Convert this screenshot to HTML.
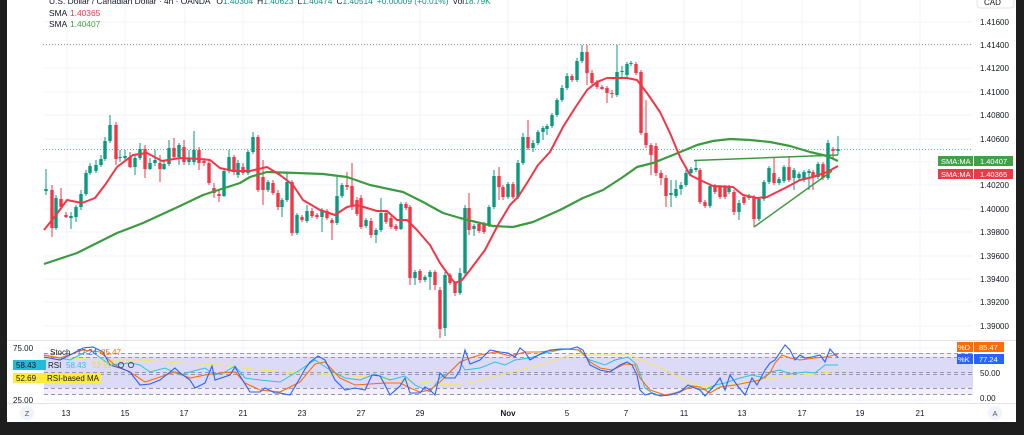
<!DOCTYPE html>
<html><head><meta charset="utf-8"><style>
html,body{margin:0;padding:0;background:#fff;width:1024px;height:435px;overflow:hidden}
svg{display:block;font-family:"Liberation Sans",sans-serif}
</style></head><body>
<svg width="1024" height="435" viewBox="0 0 1024 435" xmlns="http://www.w3.org/2000/svg">
<rect x="0" y="0" width="1024" height="435" fill="#fff"/>
<!-- grid -->
<g stroke="#f0f3fa" stroke-width="1">
<path d="M43 22H972M43 45H972M43 68H972M43 92H972M43 115H972M43 139H972M43 162H972M43 185H972M43 209H972M43 232H972M43 256H972M43 279H972M43 302H972M43 326H972"/>
<path d="M67 0V403M125 0V403M185 0V403M243 0V403M303 0V403M362 0V403M420 0V403M508 0V403M567 0V403M626 0V403M684 0V403M742 0V403M802 0V403M860 0V403M920 0V403"/>
<path d="M43 348H972M43 374H972M43 400H972"/>
</g>
<!-- separators -->
<path d="M7 340.5H1016M7 403.5H1016" stroke="#e0e3eb" stroke-width="1"/>
<!-- dotted lines -->
<path d="M43 44.5H972" stroke="#9598a1" stroke-width="1" stroke-dasharray="1 2"/>
<path d="M43 149.5H972" stroke="#089981" stroke-width="1" stroke-dasharray="1 2" opacity="0.7"/>

<!-- candles green -->
<path stroke="#089981" stroke-width="1" fill="none" d="M46 169V195M56 195V230M71 212V229M76 205V222M81 190V210M86 170V196M90 163V175M96 160V173M101 155V167M105 137V161M110 115V143M120 150V162M125 150V160M135 155V175M140 143V160M150 158V170M155 150V166M164 160V170M169 140V166M179 143V165M189 150V165M194 131V165M224 168V197M229 150V173M238 160V178M248 150V175M253 132V154M268 180V192M282 198V217M287 172V202M297 213V235M307 205V223M322 208V232M337 175V225M342 183V198M366 218V228M376 228V243M381 198V232M401 202V230M415 270V285M425 275V282M430 270V290M445 272V336M460 268V295M465 205V275M474 224V236M489 205V227M494 170V209M508 182V199M518 160V199M523 133V165M533 140V152M538 130V145M543 126V140M547 124V135M552 113V128M557 98V117M562 85V102M567 73V90M577 58V82M582 45V63M617 45V97M622 66V78M627 62V77M631 61V66M671 180V207M676 180V198M681 182V195M686 170V187M691 167V175M696 160V172M710 184V208M729 185V194M739 200V220M749 194V200M759 197V221M764 180V201M769 166V184M779 177V185M784 165V183M794 168V190M799 172V180M804 170V182M809 169V190M818 162V179M828 140V180M838 136V155"/>
<path fill="#089981" d="M44.3 189h3.4v2h-3.4zM54.3 198h3.4v30h-3.4zM69.3 216h3.4v2h-3.4zM74.3 207h3.4v10h-3.4zM79.3 194h3.4v13h-3.4zM84.3 173h3.4v21h-3.4zM88.3 166h3.4v7h-3.4zM94.3 165h3.4v6h-3.4zM99.3 159h3.4v6h-3.4zM103.3 141h3.4v18h-3.4zM108.3 125h3.4v16h-3.4zM118.3 157h3.4v1h-3.4zM123.3 156h3.4v2h-3.4zM133.3 158h3.4v9h-3.4zM138.3 149h3.4v9h-3.4zM148.3 163h3.4v6h-3.4zM153.3 160h3.4v3h-3.4zM162.3 164h3.4v5h-3.4zM167.3 148h3.4v16h-3.4zM177.3 145h3.4v12h-3.4zM187.3 159h3.4v3h-3.4zM192.3 150h3.4v12h-3.4zM222.3 171h3.4v25h-3.4zM227.3 157h3.4v14h-3.4zM236.3 163h3.4v12h-3.4zM246.3 152h3.4v21h-3.4zM251.3 137h3.4v15h-3.4zM266.3 182h3.4v8h-3.4zM280.3 200h3.4v7h-3.4zM285.3 182h3.4v18h-3.4zM295.3 215h3.4v18h-3.4zM305.3 211h3.4v10h-3.4zM320.3 211h3.4v6h-3.4zM335.3 196h3.4v27h-3.4zM340.3 185h3.4v11h-3.4zM364.3 220h3.4v6h-3.4zM374.3 230h3.4v5h-3.4zM379.3 213h3.4v17h-3.4zM399.3 204h3.4v25h-3.4zM413.3 272h3.4v6h-3.4zM423.3 277h3.4v3h-3.4zM428.3 272h3.4v5h-3.4zM443.3 275h3.4v53h-3.4zM458.3 273h3.4v20h-3.4zM463.3 208h3.4v65h-3.4zM472.3 226h3.4v3h-3.4zM487.3 207h3.4v18h-3.4zM492.3 176h3.4v31h-3.4zM506.3 184h3.4v13h-3.4zM516.3 163h3.4v34h-3.4zM521.3 137h3.4v26h-3.4zM531.3 143h3.4v5h-3.4zM536.3 132h3.4v11h-3.4zM541.3 128h3.4v4h-3.4zM545.3 126h3.4v3h-3.4zM550.3 115h3.4v11h-3.4zM555.3 100h3.4v15h-3.4zM560.3 88h3.4v12h-3.4zM565.3 76h3.4v12h-3.4zM575.3 61h3.4v19h-3.4zM580.3 52h3.4v9h-3.4zM615.3 72h3.4v23h-3.4zM620.3 71h3.4v1h-3.4zM625.3 64h3.4v11h-3.4zM629.3 63h3.4v1h-3.4zM669.3 193h3.4v2h-3.4zM674.3 189h3.4v7h-3.4zM679.3 185h3.4v4h-3.4zM684.3 173h3.4v12h-3.4zM689.3 169h3.4v4h-3.4zM694.3 168h3.4v2h-3.4zM708.3 186h3.4v20h-3.4zM727.3 187h3.4v5h-3.4zM737.3 203h3.4v9h-3.4zM747.3 196h3.4v2h-3.4zM757.3 199h3.4v20h-3.4zM762.3 182h3.4v17h-3.4zM767.3 168h3.4v14h-3.4zM777.3 179h3.4v4h-3.4zM782.3 167h3.4v14h-3.4zM792.3 170h3.4v8h-3.4zM797.3 174h3.4v4h-3.4zM802.3 172h3.4v8h-3.4zM807.3 171h3.4v2h-3.4zM816.3 164h3.4v13h-3.4zM826.3 143h3.4v35h-3.4zM836.3 149h3.4v2h-3.4z"/>
<!-- candles red -->
<path stroke="#f23645" stroke-width="1" fill="none" d="M52 185V237M61 188V210M66 212V218M116 122V165M130 152V168M145 145V178M160 155V182M174 138V160M184 140V165M199 147V170M204 158V166M209 160V185M214 183V198M219 190V202M234 155V175M243 163V175M258 135V192M263 160V205M273 180V195M278 190V210M292 180V236M302 215V222M312 208V218M317 213V219M327 209V220M332 218V240M347 172V190M352 163V210M357 197V216M361 195V229M371 218V238M386 210V224M391 216V229M396 224V231M406 202V210M410 205V285M420 269V283M435 270V290M440 287V338M450 273V285M455 281V296M469 193V235M479 222V233M484 222V234M499 167V200M503 185V200M513 182V199M528 120V150M572 74V82M587 45V85M592 70V85M597 80V89M602 85V90M607 86V103M612 90V98M636 62V75M641 70V135M646 100V148M651 143V175M656 143V176M661 170V185M666 175V207M700 168V204M705 200V208M715 184V194M720 185V199M725 185V199M734 190V215M744 195V205M754 195V227M774 157V185M789 157V182M813 170V190M823 162V180M833 147V158"/>
<path fill="#f23645" d="M50.3 190h3.4v38h-3.4zM59.3 199h3.4v8h-3.4zM64.3 215h3.4v2h-3.4zM114.3 125h3.4v34h-3.4zM128.3 157h3.4v10h-3.4zM143.3 149h3.4v20h-3.4zM158.3 163h3.4v6h-3.4zM172.3 148h3.4v9h-3.4zM182.3 147h3.4v15h-3.4zM197.3 150h3.4v13h-3.4zM202.3 161h3.4v2h-3.4zM207.3 163h3.4v20h-3.4zM212.3 188h3.4v5h-3.4zM217.3 194h3.4v2h-3.4zM232.3 157h3.4v15h-3.4zM241.3 167h3.4v6h-3.4zM256.3 137h3.4v53h-3.4zM261.3 177h3.4v13h-3.4zM271.3 183h3.4v10h-3.4zM276.3 193h3.4v14h-3.4zM290.3 182h3.4v51h-3.4zM300.3 217h3.4v3h-3.4zM310.3 211h3.4v5h-3.4zM315.3 215h3.4v2h-3.4zM325.3 211h3.4v7h-3.4zM330.3 220h3.4v3h-3.4zM345.3 185h3.4v2h-3.4zM350.3 186h3.4v20h-3.4zM355.3 200h3.4v14h-3.4zM359.3 198h3.4v29h-3.4zM369.3 221h3.4v14h-3.4zM384.3 213h3.4v9h-3.4zM389.3 218h3.4v9h-3.4zM394.3 226h3.4v3h-3.4zM404.3 204h3.4v4h-3.4zM408.3 207h3.4v71h-3.4zM418.3 271h3.4v9h-3.4zM433.3 272h3.4v13h-3.4zM438.3 290h3.4v39h-3.4zM448.3 275h3.4v8h-3.4zM453.3 283h3.4v10h-3.4zM467.3 208h3.4v22h-3.4zM477.3 224h3.4v7h-3.4zM482.3 224h3.4v8h-3.4zM497.3 176h3.4v11h-3.4zM501.3 187h3.4v10h-3.4zM511.3 184h3.4v13h-3.4zM526.3 137h3.4v11h-3.4zM570.3 76h3.4v4h-3.4zM585.3 52h3.4v21h-3.4zM590.3 73h3.4v10h-3.4zM595.3 82h3.4v5h-3.4zM600.3 87h3.4v2h-3.4zM605.3 88h3.4v5h-3.4zM610.3 93h3.4v1h-3.4zM634.3 64h3.4v9h-3.4zM639.3 72h3.4v61h-3.4zM644.3 133h3.4v12h-3.4zM649.3 145h3.4v10h-3.4zM654.3 146h3.4v27h-3.4zM659.3 173h3.4v5h-3.4zM664.3 178h3.4v18h-3.4zM698.3 170h3.4v32h-3.4zM703.3 202h3.4v4h-3.4zM713.3 186h3.4v6h-3.4zM718.3 187h3.4v10h-3.4zM723.3 187h3.4v10h-3.4zM732.3 192h3.4v20h-3.4zM742.3 197h3.4v6h-3.4zM752.3 197h3.4v22h-3.4zM772.3 173h3.4v10h-3.4zM787.3 167h3.4v13h-3.4zM811.3 172h3.4v5h-3.4zM821.3 164h3.4v14h-3.4zM831.3 149h3.4v2h-3.4z"/>

<!-- SMAs -->
<path fill="none" stroke="#3c9a40" stroke-width="2.2" stroke-linejoin="round" d="M44 264L77 253L117 233L143 223L180 206L203 195L240 183L250 177L267 172L297 173L323 174L347 177L370 185L403 192L423 202L443 213L460 218L480 223L493 226L513 227L533 222L560 210L583 198L603 190L623 177L637 167L653 163L673 155L690 148L697 145L713 141L730 139L750 140L770 142L790 146L810 152L827 156L838 161"/>
<path fill="none" stroke="#f23645" stroke-width="2" stroke-linejoin="round" d="M44 230L56 215L67 200L82 203L95 198L105 185L117 167L133 155L147 153L162 161L180 158L200 159L210 160L220 168L233 171L250 171L267 167L280 175L293 185L303 200L320 210L335 215L347 207L357 205L367 208L377 211L387 211L397 220L407 220L417 230L430 245L440 263L450 277L455 283L462 280L470 270L485 250L498 225L510 205L518 197L527 183L538 165L550 152L563 127L575 108L587 90L597 82L607 78L627 78L637 80L647 93L660 112L670 133L680 157L690 175L700 180L713 186L733 187L743 195L757 198L767 197L777 192L787 187L800 180L813 177L827 172L838 166"/>
<!-- trendlines -->
<path fill="none" stroke="#3c9a40" stroke-width="1.5" d="M694 160.5L838 155M754 227L832 171"/>

<!-- indicator pane -->
<rect x="44" y="353" width="929" height="42" fill="#f2eefb"/>
<rect x="44" y="357" width="929" height="31" fill="#dddaf8"/>
<g stroke="#9a96b0" stroke-width="1" stroke-dasharray="4 3" fill="none">
<path d="M44 353.5H973M44 357.5H973M44 372.5H973M44 374.5H973M44 388.5H973M44 394.5H973"/>
</g>
<polyline fill="none" stroke="#f5e663" stroke-width="1" points="44,356 100,360 140,360 180,363 220,365 260,370 300,373 340,375 380,378 420,382 450,385 470,383 500,375 540,365 570,355 600,355 630,355 660,368 700,387 730,385 760,380 790,376 815,374 838,371"/>
<polyline fill="none" stroke="#26c6da" stroke-width="1" points="44,355 70,360 90,350 110,365 130,363 140,365 150,372 165,368 180,375 190,372 205,368 215,375 225,372 235,366 245,378 260,380 280,382 300,370 315,360 330,370 345,378 360,380 375,374 390,380 405,376 415,385 430,392 440,378 450,372 460,362 465,370 480,368 495,362 505,365 515,360 530,358 545,353 565,349 578,350 590,360 605,365 615,360 628,357 637,365 645,388 655,395 670,395 690,387 705,390 715,385 725,383 740,378 752,375 765,378 770,372 780,370 790,374 805,372 815,373 825,365 832,365 838,365"/>
<polyline fill="none" stroke="#ff6d00" stroke-width="1.1" points="44,355 60,358 83,350 100,352 115,365 130,372 145,382 160,377 175,372 190,378 205,375 220,373 235,372 245,383 260,390 280,392 300,382 315,364 325,362 340,378 355,385 370,384 385,383 400,383 410,388 420,392 430,390 440,382 450,372 460,362 470,358 480,355 495,352 510,356 525,352 540,352 555,350 570,349 580,350 590,362 600,368 612,370 625,364 635,365 640,378 650,390 665,395 680,392 692,386 700,387 710,393 720,387 735,385 750,382 760,380 770,373 775,363 782,355 790,358 800,360 815,358 825,357 830,356 838,354"/>
<polyline fill="none" stroke="#2962ff" stroke-width="1.1" points="44,357 60,360 70,355 83,348 93,347 103,352 110,365 120,368 130,372 140,385 150,384 160,380 170,372 175,368 180,373 190,380 195,388 205,383 212,366 215,380 230,375 235,367 240,376 250,392 260,392 265,388 275,393 280,393 290,395 300,378 305,369 310,362 318,356 325,360 335,380 345,390 355,388 365,390 372,375 380,376 385,385 390,395 400,386 405,378 410,393 420,393 425,387 430,390 435,395 440,373 445,378 455,378 460,370 465,350 468,358 470,364 480,360 490,350 500,352 508,353 515,357 520,348 525,352 530,360 540,354 550,350 560,349 570,349 577,347 583,350 590,365 600,370 610,372 620,365 627,362 632,365 637,375 640,390 645,395 652,393 660,396 670,395 680,392 688,385 695,388 700,390 705,396 715,385 720,378 725,390 730,375 737,385 745,395 752,378 757,385 765,370 770,363 775,360 785,345 790,350 795,360 800,355 805,358 812,357 820,355 825,362 830,349 835,355 838,357"/>

<!-- header legend -->
<g font-size="8.4" fill="#131722">
<text x="49" y="4">U.S. Dollar / Canadian Dollar · 4h · OANDA <tspan dx="4">O</tspan><tspan fill="#089981">1.40304</tspan><tspan dx="4">H</tspan><tspan fill="#089981">1.40623</tspan><tspan dx="4">L</tspan><tspan fill="#089981">1.40474</tspan><tspan dx="4">C</tspan><tspan fill="#089981">1.40514</tspan><tspan dx="4" fill="#089981">+0.00009 (+0.01%)</tspan><tspan dx="4">Vol</tspan><tspan fill="#089981">18.79K</tspan></text>
<text x="49" y="16">SMA</text><text x="70" y="16" fill="#f23645">1.40365</text>
<text x="49" y="27">SMA</text><text x="70" y="27" fill="#43a047">1.40407</text>
</g>

<!-- price axis -->
<g font-size="8" fill="#131722">
<text x="980" y="25">1.41600</text>
<text x="980" y="48">1.41400</text>
<text x="980" y="71">1.41200</text>
<text x="980" y="95">1.41000</text>
<text x="980" y="118">1.40800</text>
<text x="980" y="142">1.40600</text>
<text x="980" y="188">1.40200</text>
<text x="980" y="212">1.40000</text>
<text x="980" y="235">1.39800</text>
<text x="980" y="259">1.39600</text>
<text x="980" y="282">1.39400</text>
<text x="980" y="305">1.39200</text>
<text x="980" y="329">1.39000</text>
<text x="980" y="376">50.00</text>
<text x="980" y="401">0.00</text>
<text x="13" y="351">75.00</text>
<text x="13" y="403">25.00</text>
</g>
<rect x="977" y="-6" width="37" height="14" rx="3" fill="#fff" stroke="#e0e3eb"/>
<text x="984" y="5" font-size="8" fill="#131722">CAD</text>

<!-- badges right -->
<rect x="938" y="156" width="35" height="10" fill="#43a047"/>
<rect x="974" y="156" width="39" height="10" fill="#43a047"/>
<rect x="938" y="169" width="35" height="10" fill="#f23645"/>
<rect x="974" y="169" width="39" height="10" fill="#f23645"/>
<g font-size="7.5" fill="#fff">
<text x="941" y="164">SMA:MA</text><text x="980" y="164">1.40407</text>
<text x="941" y="177">SMA:MA</text><text x="980" y="177">1.40365</text>
</g>
<rect x="957" y="342" width="16" height="10" fill="#ff6d00"/>
<rect x="974" y="342" width="30" height="10" fill="#ff6d00"/>
<rect x="957" y="354" width="16" height="10" fill="#2962ff"/>
<rect x="974" y="354" width="30" height="10" fill="#2962ff"/>
<g font-size="7.5" fill="#fff">
<text x="958" y="350">%D</text><text x="979" y="350">85.47</text>
<text x="958" y="362">%K</text><text x="979" y="362">77.24</text>
</g>

<!-- indicator legend -->
<rect x="13" y="360" width="33" height="10" fill="#22bcd6"/>
<rect x="13" y="373" width="88" height="10" fill="#ffeb3b"/>
<g font-size="8" fill="#131722">
<text x="50" y="355">Stoch</text><text x="77" y="355" fill="#2962ff">77.24</text><text x="101" y="355" fill="#ff6d00">85.47</text>
<text x="16" y="368">58.43</text>
<text x="48" y="368">RSI</text><text x="66" y="368" fill="#26c6da">58.43</text><text x="92" y="368" fill="#e8d84a">52.69</text>
<text x="16" y="381">52.69</text><text x="47" y="381">RSI-based MA</text>
</g>
<circle cx="121" cy="365" r="2.6" fill="none" stroke="#555" stroke-width="1"/>
<circle cx="131" cy="365" r="2.6" fill="none" stroke="#555" stroke-width="1"/>

<!-- time axis -->
<g font-size="8" fill="#131722" text-anchor="middle">
<text x="66" y="416">13</text><text x="125" y="416">15</text><text x="184" y="416">17</text><text x="243" y="416">21</text>
<text x="302" y="416">23</text><text x="361" y="416">27</text><text x="420" y="416">29</text>
<text x="508" y="416" font-weight="bold">Nov</text><text x="567" y="416">5</text><text x="626" y="416">7</text>
<text x="684" y="416">11</text><text x="742" y="416">13</text><text x="802" y="416">17</text><text x="860" y="416">19</text><text x="920" y="416">21</text>
</g>
<circle cx="27" cy="413" r="7" fill="#f0f3fa"/>
<text x="27" y="416" font-size="7.5" fill="#555" text-anchor="middle">Z</text>
<circle cx="995" cy="413" r="7" fill="#f0f3fa"/>
<text x="995" y="416" font-size="7.5" fill="#555" text-anchor="middle">A</text>

<!-- dark frame -->
<rect x="0" y="0" width="7" height="435" fill="#1e1e1e"/>
<rect x="1016" y="0" width="8" height="435" fill="#1e1e1e"/>
<rect x="0" y="422" width="1024" height="13" fill="#1e1e1e"/>
</svg>
</body></html>
